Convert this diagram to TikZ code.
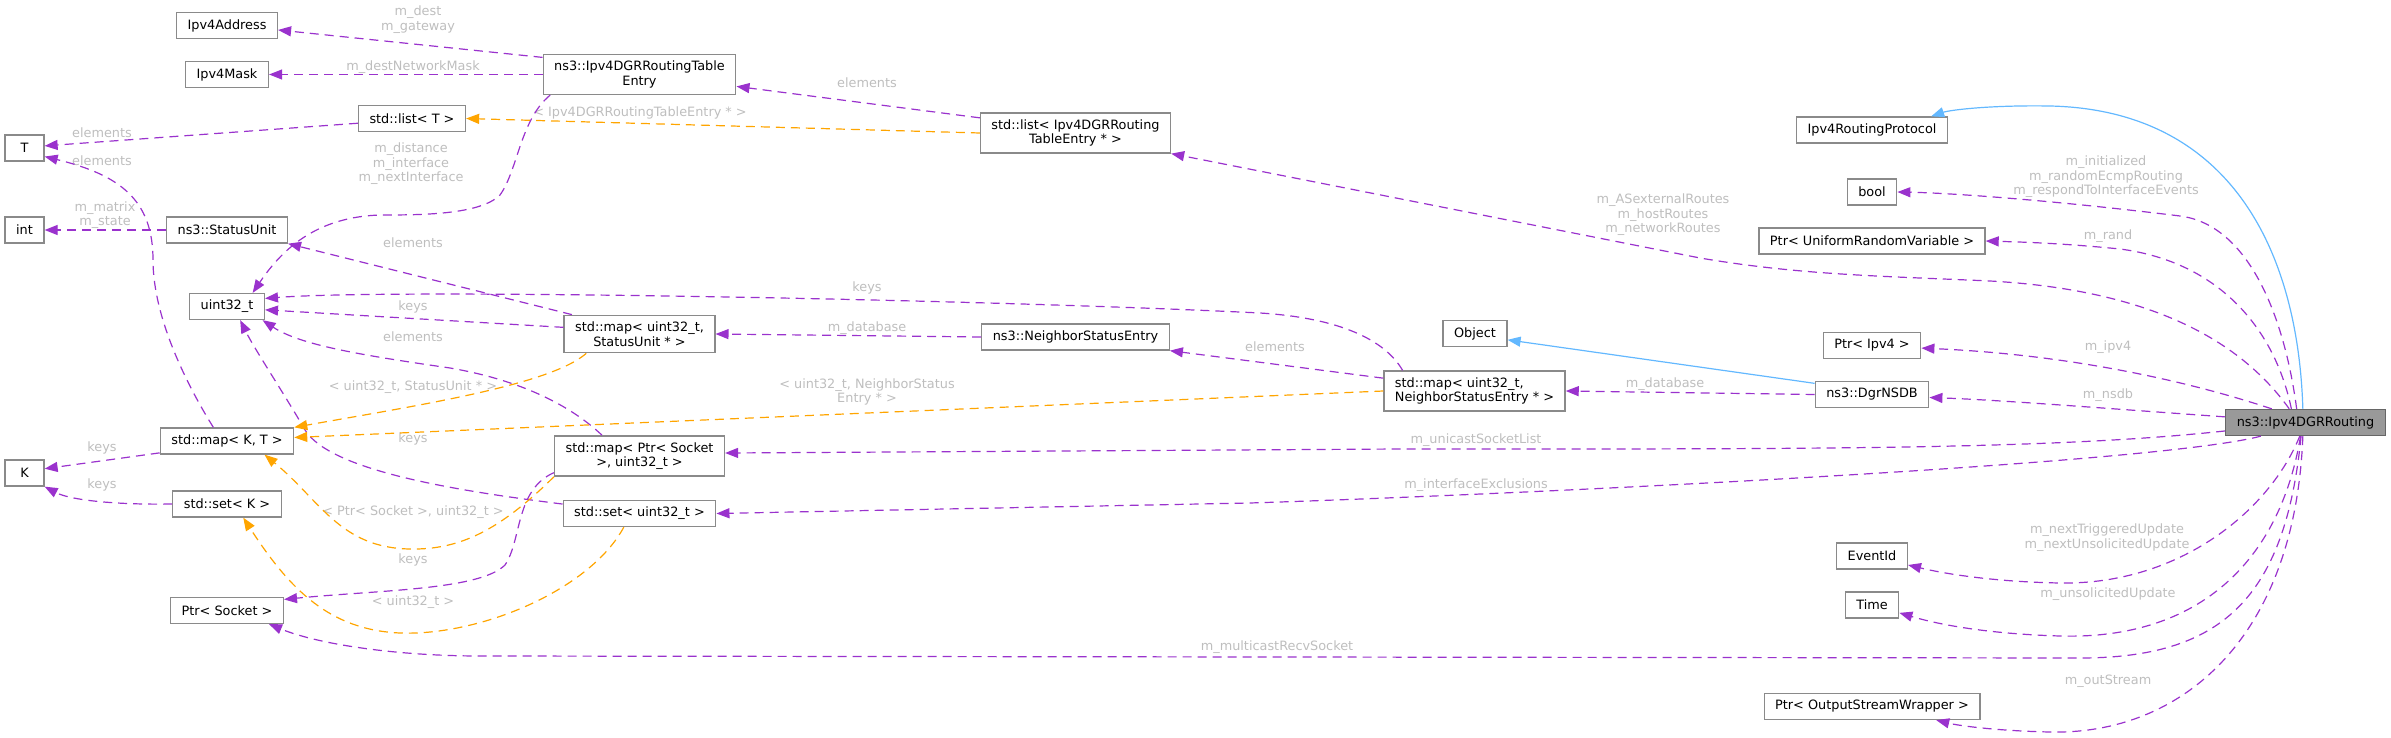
\documentclass[tikz,border=0pt]{standalone}
\usepackage{fontspec}
\setmainfont{DejaVu Sans}
\usepackage{xcolor}
\usetikzlibrary{arrows.meta}
\definecolor{edgepurple}{HTML}{9A32CD}
\definecolor{edgeorange}{HTML}{FFA500}
\definecolor{edgeblue}{HTML}{63B8FF}
\definecolor{lblgray}{HTML}{BEBEBE}
\definecolor{boxgray}{HTML}{8A8A8A}
\definecolor{mainfill}{HTML}{999999}
\definecolor{mainline}{HTML}{666666}

\begin{document}
\begin{tikzpicture}[x=1pt, y=-1pt,
        cls/.style={draw=boxgray, line width=1.3pt, fill=white, minimum width=39pt, minimum height=26pt,
                    inner xsep=11pt, inner ysep=6.5pt, align=center, font=\fontsize{12.85}{14.5}\selectfont},
        mainbox/.style={cls, fill=mainfill, draw=mainline},
        lbl/.style={inner sep=0pt, align=center, text=lblgray, font=\fontsize{12.85}{14.5}\selectfont},
        member/.style={-{Triangle[length=13pt,width=10pt]}, draw=edgepurple, line width=1.2pt,
                       dash pattern=on 9pt off 6pt},
        tmpl/.style={member, draw=edgeorange},
        inherit/.style={-{Triangle[length=13pt,width=10pt]}, draw=edgeblue, line width=1.2pt},
    ]
        \useasboundingbox (0,0) rectangle (2391,738);

        \node[cls] (ipaddr) at (227,25.5)   {Ipv4Address};
        \node[cls] (mask)   at (227,74.5)   {Ipv4Mask};
        \node[cls] (entry)  at (639.5,74.5) {ns3::Ipv4DGRRoutingTable\\Entry};
        \node[cls] (listt)  at (412,118.5)  {std::list< T >};
        \node[cls] (liste)  at (1075.5,133) {std::list< Ipv4DGRRouting\\TableEntry * >};
        \node[cls] (t)      at (24.5,148)   {T};
        \node[cls] (int)    at (24.5,230)   {int};
        \node[cls] (status) at (227,230)    {ns3::StatusUnit};
        \node[cls] (uint)   at (227,306.5)  {uint32\_t};
        \node[cls] (mapsu)  at (639.5,334)  {std::map< uint32\_t,\\StatusUnit * >};
        \node[cls] (nse)    at (1075.5,337) {ns3::NeighborStatusEntry};
        \node[cls] (mapkt)  at (227,441)    {std::map< K, T >};
        \node[cls] (k)      at (24.5,473)   {K};
        \node[cls] (setk)   at (227,504)    {std::set< K >};
        \node[cls] (sock)   at (227,610.5)  {Ptr< Socket >};
        \node[cls] (mapps)  at (639.5,456)  {std::map< Ptr< Socket\\>, uint32\_t >};
        \node[cls] (setu)   at (639.5,513.5) {std::set< uint32\_t >};
        \node[cls] (object) at (1475,333.5) {Object};
        \node[cls, align=left] (mapnse) at (1474.5,391) {std::map< uint32\_t,\\NeighborStatusEntry * >};
        \node[cls] (nsdb)   at (1872,394.5) {ns3::DgrNSDB};
        \node[mainbox] (main) at (2305.5,422.5) {ns3::Ipv4DGRRouting};
        \node[cls] (proto)  at (1872,130)   {Ipv4RoutingProtocol};
        \node[cls] (bool)   at (1872,192)   {bool};
        \node[cls] (urv)    at (1872,241)   {Ptr< UniformRandomVariable >};
        \node[cls] (ipv4)   at (1872,345.5) {Ptr< Ipv4 >};
        \node[cls] (evt)    at (1872,556)   {EventId};
        \node[cls] (time)   at (1872,605)   {Time};
        \node[cls] (osw)    at (1872,706.5) {Ptr< OutputStreamWrapper >};

        \node[lbl] (l-dest)    at (418,19.5)  {m\_dest\\m\_gateway};
        \node[lbl] (l-mask)    at (413,67)    {m\_destNetworkMask};
        \node[lbl] (l-dist)    at (411,164)   {m\_distance\\m\_interface\\m\_nextInterface};
        \node[lbl] (l-listt)   at (102,133)   {elements};
        \node[lbl] (l-matrix)  at (105,215)   {m\_matrix\\m\_state};
        \node[lbl] (l-mapkt)   at (102,161)   {elements};
        \node[lbl] (l-su)      at (413,243)   {elements};
        \node[lbl] (l-sukeys)  at (413,307)   {keys};
        \node[lbl] (l-nsekeys) at (867,288)   {keys};
        \node[lbl] (l-psel)    at (413,337)   {elements};
        \node[lbl] (l-setu)    at (413,439)   {keys};
        \node[lbl] (l-kt)      at (102,448)   {keys};
        \node[lbl] (l-setk)    at (102,485)   {keys};
        \node[lbl] (l-pskeys)  at (413,560)   {keys};
        \node[lbl] (l-db1)     at (867,328)   {m\_database};
        \node[lbl] (l-nse)     at (1275,347)  {elements};
        \node[lbl] (l-db2)     at (1665,384)  {m\_database};
        \node[lbl] (l-entry)   at (867,83)    {elements};
        \node[lbl] (l-routes)  at (1663,215)  {m\_ASexternalRoutes\\m\_hostRoutes\\m\_networkRoutes};
        \node[lbl] (l-bool)    at (2106,177)  {m\_initialized\\m\_randomEcmpRouting\\m\_respondToInterfaceEvents};
        \node[lbl] (l-rand)    at (2108,236)  {m\_rand};
        \node[lbl] (l-ipv4)    at (2108,347)  {m\_ipv4};
        \node[lbl] (l-nsdb)    at (2108,395)  {m\_nsdb};
        \node[lbl] (l-unicast) at (1476,440)  {m\_unicastSocketList};
        \node[lbl] (l-excl)    at (1476,485)  {m\_interfaceExclusions};
        \node[lbl] (l-evt)     at (2107,537.5) {m\_nextTriggeredUpdate\\m\_nextUnsolicitedUpdate};
        \node[lbl] (l-unsol)   at (2108,594)  {m\_unsolicitedUpdate};
        \node[lbl] (l-mcast)   at (1277,647)  {m\_multicastRecvSocket};
        \node[lbl] (l-out)     at (2108,681)  {m\_outStream};
        \node[lbl] (l-tentry)  at (640,113)   {< Ipv4DGRRoutingTableEntry * >};
        \node[lbl] (l-tsu)     at (413,387)   {< uint32\_t, StatusUnit * >};
        \node[lbl] (l-tnse)    at (867,392)   {< uint32\_t, NeighborStatus\\Entry * >};
        \node[lbl] (l-tps)     at (413,512)   {< Ptr< Socket >, uint32\_t >};
        \node[lbl] (l-tset)    at (413,602)   {< uint32\_t >};

        \draw[member] (entry.170) -- (ipaddr.-5);
        \draw[member] (entry.west) -- (mask.east);
        \draw[member] (entry.193) .. controls (520,120) and (518,170) .. (500,195) .. controls (480,215) and (420,215) .. (380,215) .. controls (320,217) and (285,245) .. (uint.28);
        \draw[member] (listt.185) -- (t.6);
        \draw[member] (status.west) -- (int.east);
        \draw[member] (mapkt.135) .. controls (190,390) and (153,320) .. (153,260) .. controls (153,200) and (120,175) .. (t.-23);
        \draw[member] (mapsu.164) -- (status.south east);
        \draw[member] (mapsu.175) -- (uint.-5);
        \draw[member] (mapnse.164) .. controls (1385,340) and (1340,318) .. (1260,313) .. controls (1000,300) and (400,288) .. (uint.12);
        \draw[member] (mapps.151) .. controls (570,405) and (520,380) .. (450,368) .. controls (360,355) and (300,345) .. (uint.-21);
        \draw[member] (setu.173) .. controls (450,490) and (330,470) .. (305,430) .. controls (285,395) and (255,350) .. (uint.-46);
        \draw[member] (mapkt.190) -- (k.12);
        \draw[member] (setk.west) .. controls (115,505) and (70,500) .. (k.south east);
        \draw[member] (mapps.191) .. controls (515,490) and (522,540) .. (505,565) .. controls (480,590) and (380,590) .. (sock.11);
        \draw[member] (nse.west) -- (mapsu.east);
        \draw[member] (mapnse.172) -- (nse.south east);
        \draw[member] (nsdb.west) -- (mapnse.east);
        \draw[member] (liste.171) -- (entry.-7);

        \draw[inherit] (main.101) .. controls (2298,250) and (2230,110) .. (2050,106) .. controls (1990,105) and (1950,110) .. (proto.13);
        \draw[inherit] (nsdb.169) -- (object.-11);
        \draw[member] (main.123) .. controls (2285,320) and (2250,225) .. (2180,216) .. controls (2050,200) and (1950,193) .. (bool.east);
        \draw[member] (main.136) .. controls (2275,330) and (2220,262) .. (2120,249) .. controls (2060,243) and (2020,242) .. (urv.east);
        \draw[member] (main.140) .. controls (2240,340) and (2150,290) .. (1990,281) .. controls (1880,276) and (1800,275) .. (1700,258) -- (liste.south east);
        \draw[member] (main.158) .. controls (2200,385) and (2080,355) .. (ipv4.-3);
        \draw[member] (main.176) .. controls (2100,408) and (2000,400) .. (nsdb.-3);
        \draw[member] (main.186) .. controls (2050,450) and (1800,449) .. (1400,449) -- (mapps.2);
        \draw[member] (main.197) .. controls (2150,465) and (1500,495) .. (1250,503) -- (setu.east);
        \draw[member] (main.-113) .. controls (2270,510) and (2180,585) .. (2060,583) .. controls (2000,582) and (1950,575) .. (evt.-14);
        \draw[member] (main.-110) .. controls (2280,560) and (2200,640) .. (2060,636) .. controls (1990,634) and (1940,625) .. (time.-16);
        \draw[member] (main.-108) .. controls (2285,600) and (2220,658) .. (2080,658) -- (480,656) .. controls (400,656) and (320,645) .. (sock.-18);
        \draw[member] (main.-101) .. controls (2295,640) and (2180,735) .. (2050,732) .. controls (2000,731) and (1960,726) .. (osw.-12);

        \draw[tmpl] (liste.west) -- (listt.east);
        \draw[tmpl] (mapsu.200) .. controls (550,385) and (420,405) .. (mapkt.north east);
        \draw[tmpl] (mapnse.west) -- (mapkt.3);
        \draw[tmpl] (mapps.south west) .. controls (500,530) and (460,550) .. (410,549) .. controls (340,548) and (320,500) .. (mapkt.-20);
        \draw[tmpl] (setu.221) .. controls (590,590) and (480,636) .. (400,633) .. controls (330,630) and (290,590) .. (setk.-40);
    \end{tikzpicture}
\end{document}
